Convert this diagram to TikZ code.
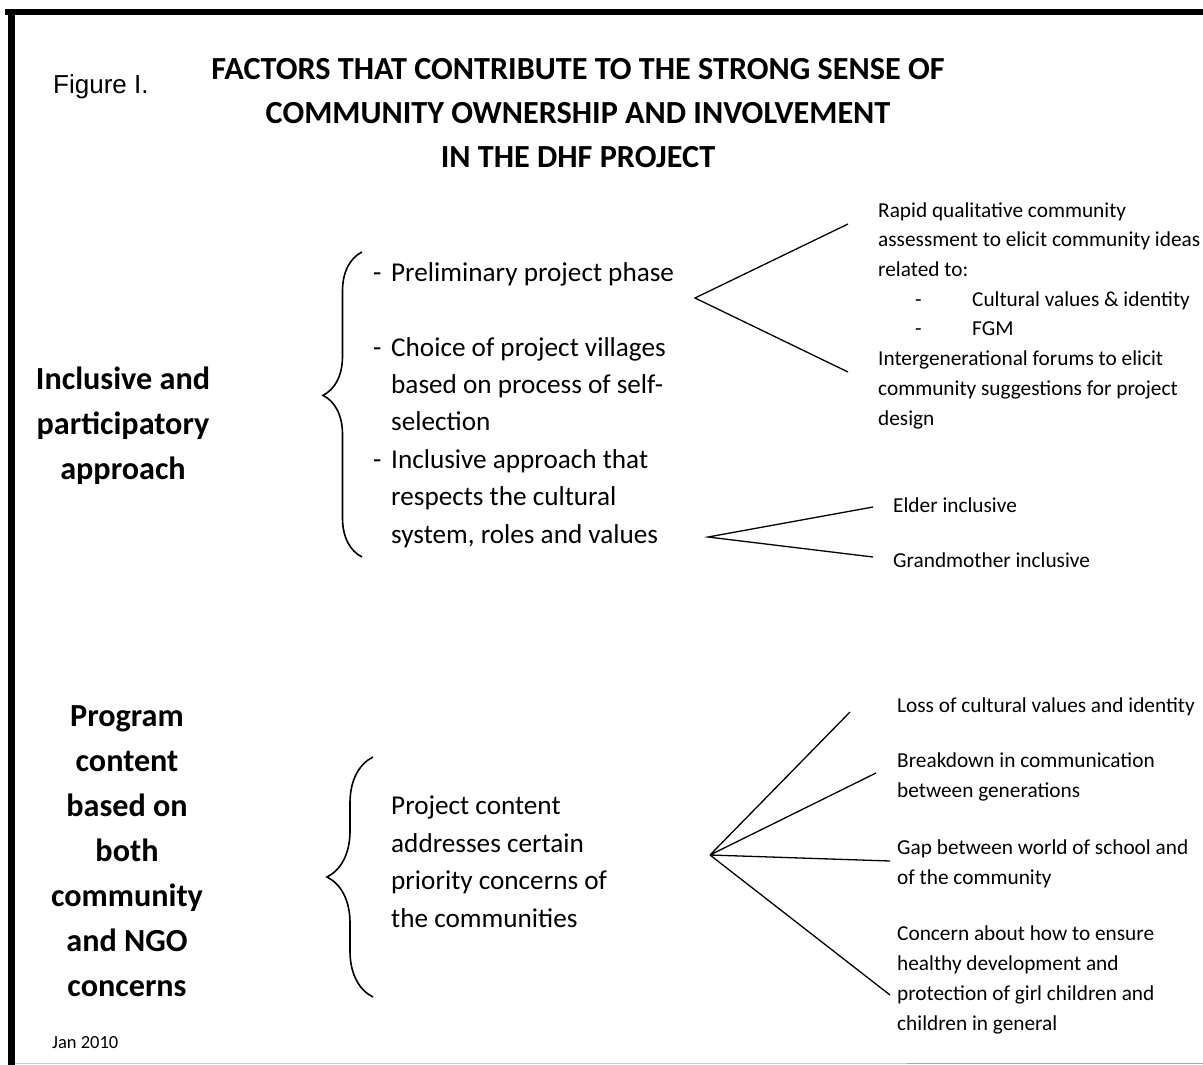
\documentclass[tikz,border=0pt]{standalone}
\usepackage{fontspec}
\setmainfont{Carlito}
\newfontfamily\arialfont{Liberation Sans}
\usetikzlibrary{decorations.pathreplacing}

\begin{document}
\begin{tikzpicture}[x=1pt, y=-1pt,
    every node/.style={inner sep=0pt},
    heading/.style={font=\bfseries\fontsize{32.2}{44}\selectfont, align=center, anchor=base},
    factor/.style={font=\bfseries\fontsize{32.2}{45}\selectfont, align=center, anchor=base},
    item/.style={font=\fontsize{27.2}{37.4}\selectfont, align=left, anchor=base west},
    detail/.style={font=\fontsize{21.3}{29.7}\selectfont, align=left, anchor=base west},
    fan/.style={line width=1.3pt},
    bracket/.style={decorate, line width=1.6pt}]
    \useasboundingbox (0,0) rectangle (1203,1065);
    % frame of the scanned page
    \draw[line width=6pt] (5,12) -- (1203,12);
    \draw[line width=7pt] (11,9) -- (11,1065);
    \draw[gray!35, line width=0.8pt] (15,1063) -- (907,1063);
    \draw[gray!70, line width=1pt] (907,1063) -- (1203,1063);

    % nodes below are placed by the baseline of their last line
    \node[font=\arialfont\fontsize{26}{30}\selectfont, anchor=base west] (fig) at (53,93) {Figure I.};
    \node[heading] (title) at (578,167) {FACTORS THAT CONTRIBUTE TO THE STRONG SENSE OF\\
        COMMUNITY OWNERSHIP AND INVOLVEMENT\\ IN THE DHF PROJECT};

    % first factor
    \node[factor] (incl) at (123,479) {Inclusive and\\ participatory\\ approach};
    \draw[bracket, decoration={brace, amplitude=39pt, aspect=0.53}] (362,557) -- (362,252);
    \node[item] (steps) at (373,543) {\makebox[18pt][l]{-}Preliminary project phase\\[37.4pt]
        \makebox[18pt][l]{-}Choice of project villages\\ \hspace*{18pt}based on process of self-\\
        \hspace*{18pt}selection\\ \makebox[18pt][l]{-}Inclusive approach that\\
        \hspace*{18pt}respects the cultural\\ \hspace*{18pt}system, roles and values};

    \coordinate (fork1) at (695,298);
    \coordinate (f1a) at (848,224);
    \coordinate (f1b) at (848,372);
    \draw[fan] (f1a) -- (fork1) -- (f1b);
    \node[detail] (assess) at (878,425) {Rapid qualitative community\\
        assessment to elicit community ideas\\ related to:\\
        \hspace*{37pt}\makebox[57pt][l]{-}Cultural values \& identity\\
        \hspace*{37pt}\makebox[57pt][l]{-}FGM\\
        Intergenerational forums to elicit\\ community suggestions for project\\ design};

    \coordinate (fork2) at (708,537);
    \coordinate (f2a) at (873,507);
    \coordinate (f2b) at (873,557);
    \draw[fan] (f2a) -- (fork2) -- (f2b);
    \node[detail] (elder) at (893,512) {Elder inclusive};
    \node[detail] (grand) at (893,567) {Grandmother inclusive};

    % second factor
    \node[factor] (prog) at (127,996) {Program\\ content\\ based on\\ both\\ community\\ and NGO\\ concerns};
    \draw[bracket, decoration={brace, amplitude=46pt}] (373,997) -- (373,757);
    \node[item] (content) at (391,927) {Project content\\ addresses certain\\
        priority concerns of\\ the communities};

    \coordinate (fork3) at (710,855);
    \coordinate (f3a) at (850,712);
    \coordinate (f3b) at (876,773);
    \coordinate (f3c) at (890,861);
    \coordinate (f3d) at (890,995);
    \draw[fan] (fork3) -- (f3a) (fork3) -- (f3b) (fork3) -- (f3c) (fork3) -- (f3d);
    \node[detail] (loss) at (897,712) {Loss of cultural values and identity};
    \node[detail] (gen) at (897,797) {Breakdown in communication\\ between generations};
    \node[detail] (gap) at (897,884) {Gap between world of school and\\ of the community};
    \node[detail] (girl) at (897,1030) {Concern about how to ensure\\ healthy development and\\
        protection of girl children and\\ children in general};

    \node[font=\fontsize{18.5}{22}\selectfont, anchor=base west] (date) at (52,1048) {Jan 2010};
\end{tikzpicture}
\end{document}
